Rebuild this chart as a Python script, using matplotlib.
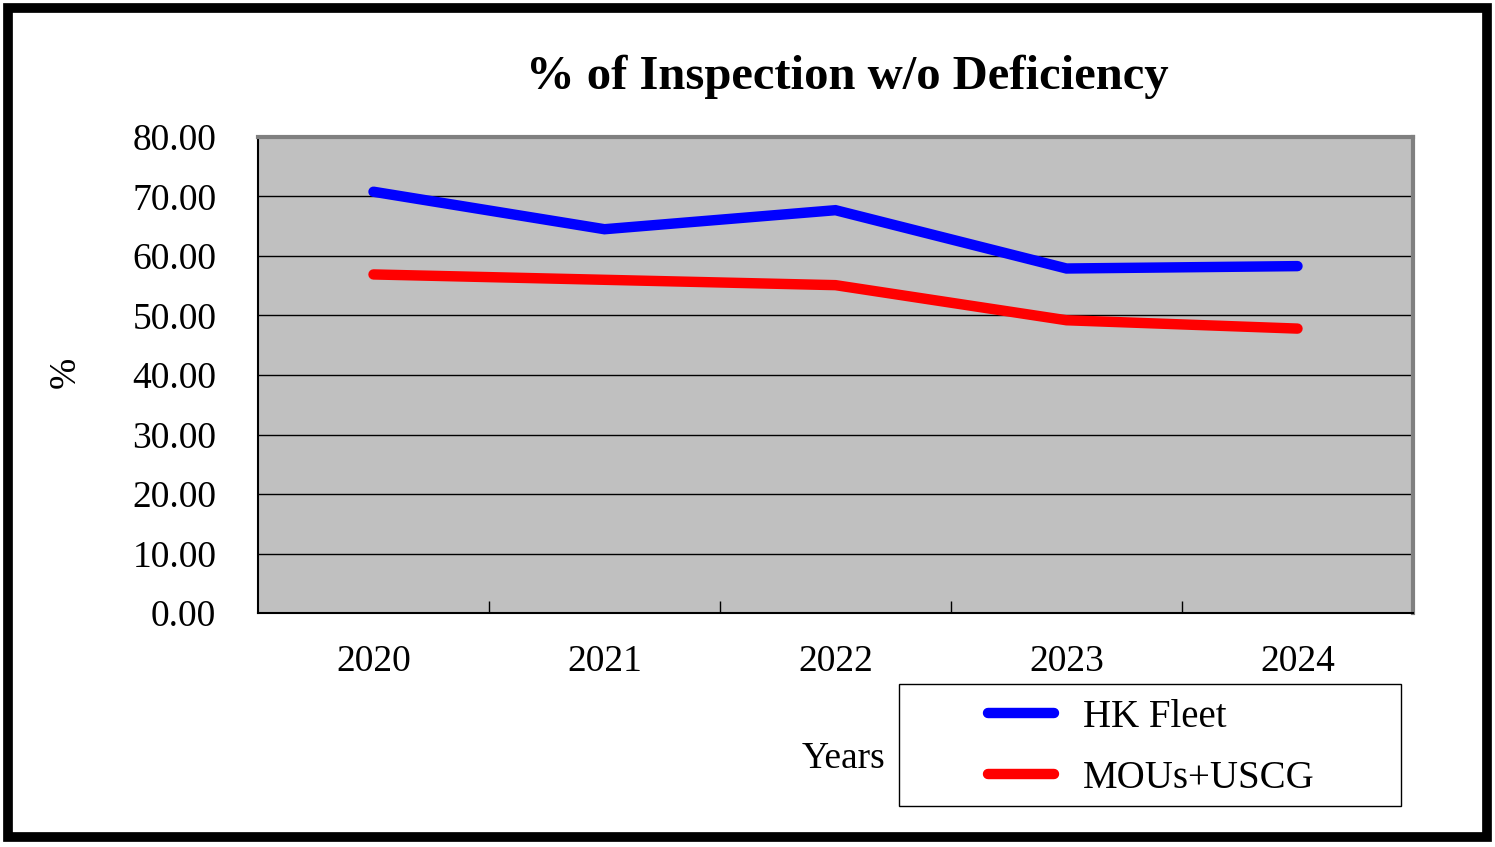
import matplotlib
matplotlib.use("Agg")
import matplotlib.pyplot as plt
from matplotlib.patches import Rectangle

### DATA
years = ["2020", "2021", "2022", "2023", "2024"]
hk_fleet = [70.8, 64.5, 67.7, 57.9, 58.3]
mous_uscg = [56.9, 56.0, 55.1, 49.2, 47.8]
y_ticks = [0, 10, 20, 30, 40, 50, 60, 70, 80]

plt.rcParams['font.family'] = ['Liberation Serif', 'DejaVu Serif']

fig = plt.figure(figsize=(14.95, 8.47), dpi=100)
# plot area in pixels: x 258-1413, y 137-613
ax = fig.add_axes([258 / 1495, 1 - 613 / 847, 1155 / 1495, 476 / 847])
ax.set_facecolor('#c0c0c0')

x = range(len(years))
ax.plot(x, hk_fleet, color='#0000ff', lw=7.5, solid_capstyle='round', solid_joinstyle='miter', label='HK Fleet', zorder=3)
ax.plot(x, mous_uscg, color='#ff0000', lw=7.5, solid_capstyle='round', solid_joinstyle='miter', label='MOUs+USCG', zorder=3)

ax.set_xlim(-0.5, len(years) - 0.5)
ax.set_ylim(0, 80)
ax.set_yticks(y_ticks)
ax.set_yticklabels([f"{v:.2f}" for v in y_ticks], fontsize=27)
ax.yaxis.grid(True, color='black', lw=1)
ax.set_axisbelow(True)

# category labels sit between the boundary ticks
ax.set_xticks([i + 0.5 for i in range(len(years) - 1)])
ax.set_xticklabels([])
ax.tick_params(axis='x', direction='in', length=9, width=1, colors='black')
ax.tick_params(axis='y', direction='out', length=0, pad=30)
for i, yr in enumerate(years):
    ax.text(i, -5.3, yr, ha='center', va='top', fontsize=27)

for s in ['top', 'right']:
    ax.spines[s].set_color('#808080')
    ax.spines[s].set_linewidth(3)
for s in ['left', 'bottom']:
    ax.spines[s].set_color('black')
    ax.spines[s].set_linewidth(1.5)

fig.text(847 / 1495, 1 - 77 / 847, '% of Inspection w/o Deficiency', ha='center', va='center',
         fontsize=35, fontweight='bold')
fig.text(65 / 1495, 1 - 372 / 847, '%', ha='center', va='center', rotation=90, fontsize=27)
fig.text(843 / 1495, 1 - 759 / 847, 'Years', ha='center', va='center', fontsize=27)

# legend box (frame drawn separately to get the wide Excel-style box)
fig.patches.append(Rectangle((899 / 1495, 1 - 806 / 847), 502 / 1495, 122 / 847,
                             transform=fig.transFigure, fill=False, edgecolor='black', lw=1))
leg = fig.legend(loc='center left', bbox_to_anchor=(988 / 1495, 1 - 748 / 847),
                 fontsize=28, frameon=False, handlelength=1.7, borderaxespad=0,
                 borderpad=0, labelspacing=0.62, handletextpad=0.75)

# figure border
fig.patches.append(Rectangle((8 / 1495, 1 - 837 / 847), 1479 / 1495, 829 / 847,
                             transform=fig.transFigure, fill=False, edgecolor='black', lw=7))

fig.savefig('out.png', dpi=100)
